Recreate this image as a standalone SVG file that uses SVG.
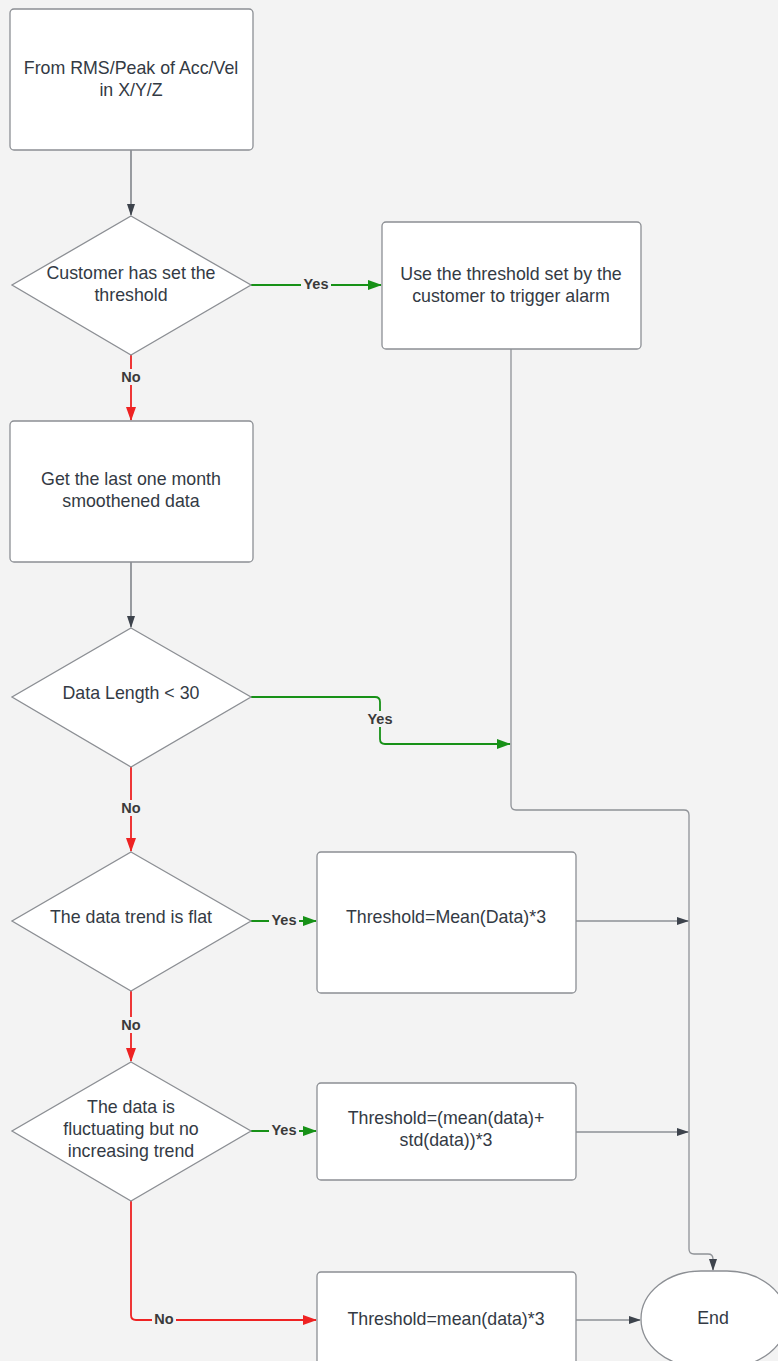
<svg xmlns="http://www.w3.org/2000/svg" width="778" height="1361" viewBox="0 0 778 1361">
<style>
.n{fill:#fff;stroke:#8c8f94;stroke-width:1.3}
.t{font-family:"Liberation Sans",Arial,sans-serif;font-size:17.8px;fill:#333a44;text-anchor:middle}
.l{font-family:"Liberation Sans",Arial,sans-serif;font-size:14.5px;font-weight:bold;fill:#3a3a3a;text-anchor:middle}
.g{fill:none;stroke:#179117;stroke-width:1.8}
.r{fill:none;stroke:#ee2222;stroke-width:1.8}
.k{fill:none;stroke:#5b6068;stroke-width:1.2}
.lb{fill:#f3f3f3}
</style>
<defs>
<marker id="ar" markerWidth="14" markerHeight="12" refX="13" refY="6" orient="auto" markerUnits="userSpaceOnUse"><path d="M0,1 L14,6 L0,11 z" fill="#ee2222"/></marker>
<marker id="agg" markerWidth="14" markerHeight="12" refX="13" refY="6" orient="auto" markerUnits="userSpaceOnUse"><path d="M0,1 L14,6 L0,11 z" fill="#179117"/></marker>
<marker id="ak" markerWidth="12" markerHeight="10" refX="11" refY="5" orient="auto" markerUnits="userSpaceOnUse"><path d="M0,1 L12,5 L0,9 z" fill="#3d434c"/></marker>
</defs>
<rect width="778" height="1361" fill="#f3f3f3"/>
<g id="connectors">
<path class="k" d="M131,150 V215" marker-end="url(#ak)"/>
<path class="g" d="M251,285 H381" marker-end="url(#agg)"/>
<path class="r" d="M131,355 V420" marker-end="url(#ar)"/>
<path class="k" d="M131,562 V627" marker-end="url(#ak)"/>
<path class="g" d="M251,697 H375 Q380,697 380,702 V739 Q380,744 385,744 H510" marker-end="url(#agg)"/>
<path class="r" d="M131,767 V851" marker-end="url(#ar)"/>
<path class="g" d="M251,921 H316" marker-end="url(#agg)"/>
<path class="r" d="M131,991 V1061" marker-end="url(#ar)"/>
<path class="g" d="M251,1131 H316" marker-end="url(#agg)"/>
<path class="r" d="M131,1201 V1315 Q131,1320 136,1320 H316" marker-end="url(#ar)"/>
<path d="M511,349 V805 Q511,810 516,810 H684 Q689,810 689,815 V1249 Q689,1254 694,1254 H708 Q713,1254 713,1259 V1270" fill="none" stroke="#8f9297" stroke-width="1.3" marker-end="url(#ak)"/>
<path class="k" d="M576,921 H688" marker-end="url(#ak)"/>
<path class="k" d="M576,1132 H688" marker-end="url(#ak)"/>
<path class="k" d="M576,1320 H640" stroke="#8f9297" marker-end="url(#ak)"/>
<rect class="lb" x="301" y="276" width="30" height="16"/><text class="l" x="316" y="289">Yes</text>
<rect class="lb" x="119" y="369" width="24" height="16"/><text class="l" x="131" y="382">No</text>
<rect class="lb" x="365" y="711" width="30" height="16"/><text class="l" x="380" y="724">Yes</text>
<rect class="lb" x="119" y="800" width="24" height="16"/><text class="l" x="131" y="813">No</text>
<rect class="lb" x="269" y="912" width="30" height="16"/><text class="l" x="284" y="925">Yes</text>
<rect class="lb" x="119" y="1017" width="24" height="16"/><text class="l" x="131" y="1030">No</text>
<rect class="lb" x="269" y="1122" width="30" height="16"/><text class="l" x="284" y="1135">Yes</text>
<rect class="lb" x="152" y="1311" width="24" height="16"/><text class="l" x="164" y="1324">No</text>
</g>
<g id="start"><rect class="n" x="10" y="9" width="243" height="141" rx="4"/><text class="t" x="131" y="74">From RMS/Peak of Acc/Vel</text><text class="t" x="131" y="96">in X/Y/Z</text></g>
<g id="d1"><path class="n" d="M131,216 L251,285 L131,355 L12,285 Z"/><text class="t" x="131" y="279">Customer has set the</text><text class="t" x="131" y="301">threshold</text></g>
<g id="custom"><rect class="n" x="382" y="222" width="259" height="127" rx="4"/><text class="t" x="511" y="280">Use the threshold set by the</text><text class="t" x="511" y="302">customer to trigger alarm</text></g>
<g id="getdata"><rect class="n" x="10" y="421" width="243" height="141" rx="4"/><text class="t" x="131" y="485">Get the last one month</text><text class="t" x="131" y="507">smoothened data</text></g>
<g id="d2"><path class="n" d="M131,628 L251,697 L131,767 L12,697 Z"/><text class="t" x="131" y="699">Data Length &lt; 30</text></g>
<g id="d3"><path class="n" d="M131,852 L251,921 L131,991 L12,921 Z"/><text class="t" x="131" y="923">The data trend is flat</text></g>
<g id="t1"><rect class="n" x="317" y="852" width="259" height="141" rx="4"/><text class="t" x="446" y="923">Threshold=Mean(Data)*3</text></g>
<g id="d4"><path class="n" d="M131,1062 L251,1131 L131,1201 L12,1131 Z"/><text class="t" x="131" y="1113">The data is</text><text class="t" x="131" y="1135">fluctuating but no</text><text class="t" x="131" y="1157">increasing trend</text></g>
<g id="t2"><rect class="n" x="317" y="1083" width="259" height="97" rx="4"/><text class="t" x="446" y="1124">Threshold=(mean(data)+</text><text class="t" x="446" y="1146">std(data))*3</text></g>
<g id="t3"><rect class="n" x="317" y="1272" width="259" height="100" rx="4"/><text class="t" x="446" y="1325">Threshold=mean(data)*3</text></g>
<g id="end"><rect class="n" x="641" y="1271" width="146" height="96" rx="60" ry="48"/><text class="t" x="713" y="1324">End</text></g>
</svg>
